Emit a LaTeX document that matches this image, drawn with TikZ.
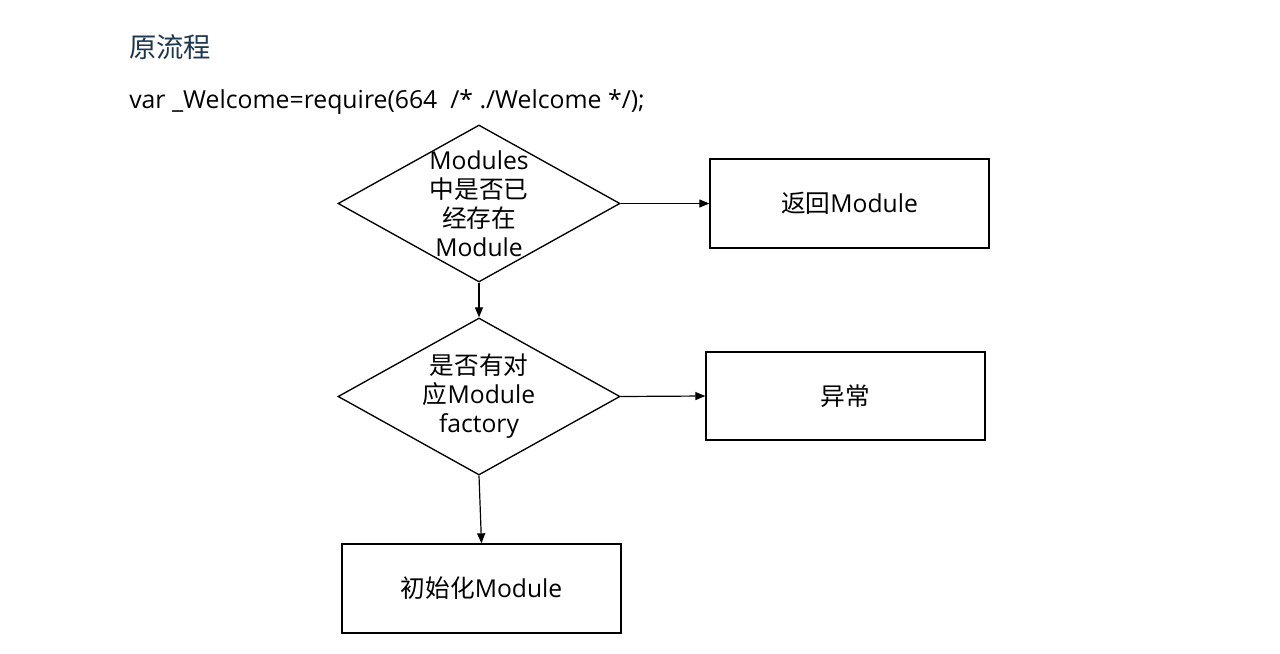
\documentclass[tikz,border=0pt]{standalone}
\usepackage{fontspec}
\setmainfont{Open Sans}
\newfontfamily\cjk{Noto Sans CJK SC}
\usetikzlibrary{arrows.meta,shapes.geometric}
\definecolor{titlecol}{RGB}{30,55,80}
\tikzset{
  txt/.style={font=\fontsize{18.5}{21.75}\selectfont, align=center, inner sep=0pt},
  dia/.style={diamond, draw, line width=1pt, minimum width=211.5pt, minimum height=117.75pt, inner sep=0pt},
  box/.style={rectangle, draw, line width=1pt, minimum width=209.25pt, minimum height=66.75pt, inner sep=0pt, font=\fontsize{18.5}{21.75}\selectfont},
  arr/.style={-{Triangle[length=7.5pt,width=6pt]}, line width=0.9pt}
}
\begin{document}
\begin{tikzpicture}[x=0.75pt,y=-0.75pt]
\useasboundingbox (0,0) rectangle (1280,653);
\fill[white] (0,0) rectangle (1280,653);
\node[anchor=west, inner sep=0pt, text=titlecol, font=\fontsize{20.5}{24}\selectfont\cjk] (title) at (129,47) {原流程};
\node[anchor=west, inner sep=0pt, font=\fontsize{18.6}{22}\selectfont] (code) at (129,102.5) {var \_Welcome=require(664\ \ /* ./Welcome */);};

\node[dia] (d1) at (479,203.5) {};
\node[txt] (t1) at (d1.center) {Modules\\{\cjk 中是否已}\\{\cjk 经存在}\\Module};
\node[dia] (d2) at (479,396.5) {};
\node[txt] (t2) at (d2.center) {{\cjk 是否有对}\\{\cjk 应}Module\\factory};

\node[box] (b1) at (849.5,203.5) {{\cjk 返回}Module};
\node[box, minimum height=66pt] (b2) at (845.5,396) {{\cjk 异常}};
\node[box] (b3) at (481.5,588.5) {{\cjk 初始化}Module};

\draw[arr] (d1.south) -- (d2.north);
\draw[arr] (d1.east) -- (b1.west);
\draw[arr] (d2.east) -- (b2.west);
\draw[arr] (d2.south) -- (b3.north);
\end{tikzpicture}
\end{document}
